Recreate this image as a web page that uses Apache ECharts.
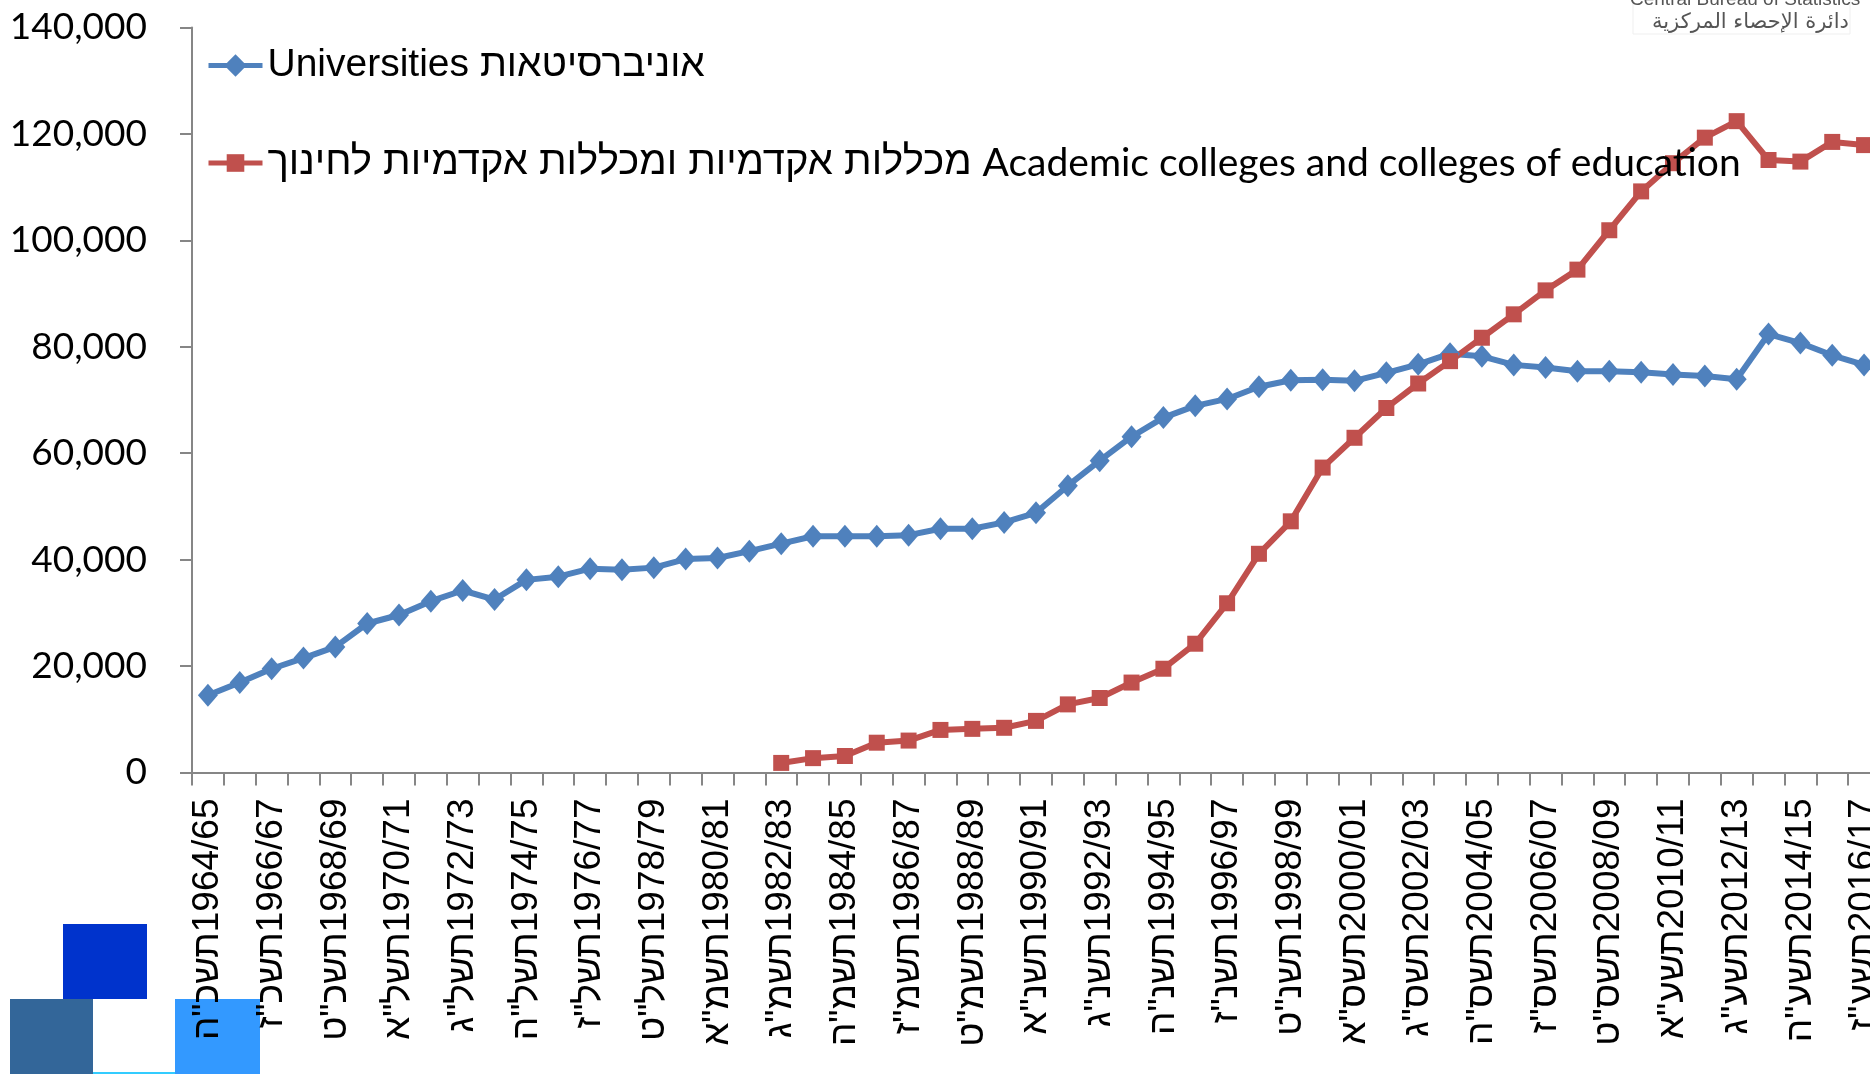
<!DOCTYPE html>
<html>
<head>
  <meta charset="utf-8">
  <script src="https://cdn.jsdelivr.net/npm/echarts@6/dist/echarts.min.js"></script>
  <style type="text/css">
    html,
    body {
      margin: 0;
      background-color: #fff;
    }

    #main {
      width: 1870px;
      height: 1074px;
    }
  </style>
</head>
<body>
  <div id="main"></div>
  <script type="text/javascript">
    // school years, Hebrew + Gregorian
    var hebYears = ['תשכ"ה', 'תשכ"ו', 'תשכ"ז', 'תשכ"ח', 'תשכ"ט', 'תש"ל', 'תשל"א', 'תשל"ב', 'תשל"ג', 'תשל"ד',
      'תשל"ה', 'תשל"ו', 'תשל"ז', 'תשל"ח', 'תשל"ט', 'תש"ם', 'תשמ"א', 'תשמ"ב', 'תשמ"ג', 'תשמ"ד',
      'תשמ"ה', 'תשמ"ו', 'תשמ"ז', 'תשמ"ח', 'תשמ"ט', 'תש"ן', 'תשנ"א', 'תשנ"ב', 'תשנ"ג', 'תשנ"ד',
      'תשנ"ה', 'תשנ"ו', 'תשנ"ז', 'תשנ"ח', 'תשנ"ט', 'תש"ס', 'תשס"א', 'תשס"ב', 'תשס"ג', 'תשס"ד',
      'תשס"ה', 'תשס"ו', 'תשס"ז', 'תשס"ח', 'תשס"ט', 'תש"ע', 'תשע"א', 'תשע"ב', 'תשע"ג', 'תשע"ד',
      'תשע"ה', 'תשע"ו', 'תשע"ז'];
    var gregYears = ['1964/65', '1965/66', '1966/67', '1967/68', '1968/69', '1969/70', '1970/71', '1971/72', '1972/73', '1973/74',
      '1974/75', '1975/76', '1976/77', '1977/78', '1978/79', '1979/80', '1980/81', '1981/82', '1982/83', '1983/84',
      '1984/85', '1985/86', '1986/87', '1987/88', '1988/89', '1989/90', '1990/91', '1991/92', '1992/93', '1993/94',
      '1994/95', '1995/96', '1996/97', '1997/98', '1998/99', '1999/2000', '2000/01', '2001/02', '2002/03', '2003/04',
      '2004/05', '2005/06', '2006/07', '2007/08', '2008/09', '2009/10', '2010/11', '2011/12', '2012/13', '2013/14',
      '2014/15', '2015/16', '2016/17'];

    var universities = [14500, 16900, 19500, 21500, 23600, 28000, 29600, 32200, 34200, 32500,
      36200, 36800, 38300, 38100, 38500, 40100, 40300, 41600, 43000, 44400,
      44400, 44400, 44600, 45800, 45800, 47000, 48800, 53900, 58600, 63100,
      66700, 68900, 70200, 72500, 73700, 73800, 73600, 75100, 76700, 78700,
      78200, 76600, 76100, 75400, 75400, 75200, 74800, 74500, 73900, 82400,
      80700, 78400, 76600];
    var colleges = [null, null, null, null, null, null, null, null, null, null,
      null, null, null, null, null, null, null, null, 1800, 2700,
      3100, 5600, 6000, 8000, 8200, 8400, 9700, 12800, 14000, 16900,
      19500, 24200, 31800, 41100, 47200, 57300, 62900, 68500, 73100, 77300,
      81700, 86100, 90600, 94500, 101900, 109200, 114500, 119300, 122400, 115100,
      114800, 118500, 117900];

    var yTicks = [0, 20000, 40000, 60000, 80000, 100000, 120000, 140000];

    var nameU = 'Universities אוניברסיטאות';
    var nameC = 'מכללות אקדמיות ומכללות אקדמיות לחינוך Academic colleges and colleges of education';

    var categories = [];
    for (var i = 0; i < gregYears.length; i++) {
      // LRM keeps the Hebrew year on the left of the number
      categories.push(hebYears[i] + '\u200E' + gregYears[i]);
    }

    var arial = "'Liberation Sans', Arial, 'DejaVu Sans', sans-serif";
    var calibri = "Lato, 'Liberation Sans', 'DejaVu Sans', sans-serif";

    var myChart = echarts.init(document.getElementById('main'));

    var option = {
      animation: false,
      grid: {
        left: 192,
        top: 27.5,
        height: 745,
        width: 1688,
        outerBoundsMode: 'none',
        containLabel: false
      },
      legend: [{
        data: [nameU],
        left: 206,
        top: 46,
        padding: 0,
        itemWidth: 54,
        itemHeight: 28,
        lineStyle: { width: 5 },
        formatter: function () {
          return '{en|Universities} {he|אוניברסיטאות}';
        },
        textStyle: {
          color: '#000',
          fontSize: 39,
          fontFamily: arial,
          rich: {
            en: { fontSize: 39, fontFamily: arial, color: '#000' },
            he: { fontSize: 39, fontFamily: arial, color: '#000' }
          }
        }
      }, {
        data: [nameC],
        left: 206,
        top: 143,
        padding: 0,
        itemWidth: 54,
        itemHeight: 22,
        lineStyle: { width: 5 },
        formatter: function () {
          return '{he|מכללות אקדמיות ומכללות אקדמיות לחינוך} {en|Academic colleges and colleges of education}';
        },
        textStyle: {
          color: '#000',
          fontSize: 39,
          fontFamily: arial,
          rich: {
            he: { fontSize: 40, fontFamily: arial, color: '#000' },
            en: { fontSize: 39, fontFamily: calibri, color: '#000' }
          }
        }
      }],
      xAxis: {
        type: 'category',
        data: categories,
        boundaryGap: true,
        axisLine: { lineStyle: { color: '#868686', width: 2 } },
        axisTick: { show: true, interval: 0, length: 13, lineStyle: { color: '#868686', width: 2 } },
        axisLabel: {
          interval: 1,
          rotate: 90,
          margin: 26,
          color: '#000',
          fontSize: 37,
          fontFamily: arial
        },
        splitLine: { show: false }
      },
      yAxis: {
        type: 'value',
        min: 0,
        max: yTicks[yTicks.length - 1],
        interval: yTicks[1] - yTicks[0],
        axisLine: { show: true, lineStyle: { color: '#868686', width: 2 } },
        axisTick: { show: true, length: 12, lineStyle: { color: '#868686', width: 2 } },
        axisLabel: {
          margin: 45,
          color: '#000',
          fontSize: 37,
          fontFamily: calibri,
          formatter: function (v) {
            return v.toLocaleString('en-US');
          }
        },
        splitLine: { show: false }
      },
      series: [{
        name: nameU,
        type: 'line',
        data: universities,
        symbol: 'diamond',
        symbolSize: [20, 23],
        showAllSymbol: true,
        color: '#4F81BD',
        lineStyle: { width: 6, color: '#4F81BD' },
        itemStyle: { color: '#4F81BD' }
      }, {
        name: nameC,
        type: 'line',
        data: colleges,
        symbol: 'rect',
        symbolSize: 16,
        showAllSymbol: true,
        color: '#C0504D',
        lineStyle: { width: 6, color: '#C0504D' },
        itemStyle: { color: '#C0504D' }
      }],
      graphic: [
        // logo, top right
        { type: 'rect', z: -10, shape: { x: 1633, y: -4, width: 217, height: 38 }, style: { fill: '#fff', stroke: '#efefef', lineWidth: 1 } },
        { type: 'text', z: -9, left: 1630, top: -10, style: { text: 'Central Bureau of Statistics', fontSize: 19, fontFamily: arial, fill: '#555' } },
        { type: 'text', z: -9, left: 1652, top: 12, style: { text: 'دائرة الإحصاء المركزية', fontSize: 21, fontFamily: "'DejaVu Sans', sans-serif", fill: '#555' } },
        // logo, bottom left
        { type: 'rect', z: -10, shape: { x: 63, y: 924, width: 84, height: 75 }, style: { fill: '#0033CC' } },
        { type: 'rect', z: -10, shape: { x: 10, y: 999, width: 83, height: 75 }, style: { fill: '#336699' } },
        { type: 'rect', z: -10, shape: { x: 175, y: 999, width: 85, height: 75 }, style: { fill: '#3399FF' } },
        { type: 'line', z: -10, shape: { x1: 93, y1: 1073, x2: 175, y2: 1073 }, style: { stroke: '#33CCFF', lineWidth: 2 } }
      ]
    };

    myChart.setOption(option);
  </script>
</body>
</html>
